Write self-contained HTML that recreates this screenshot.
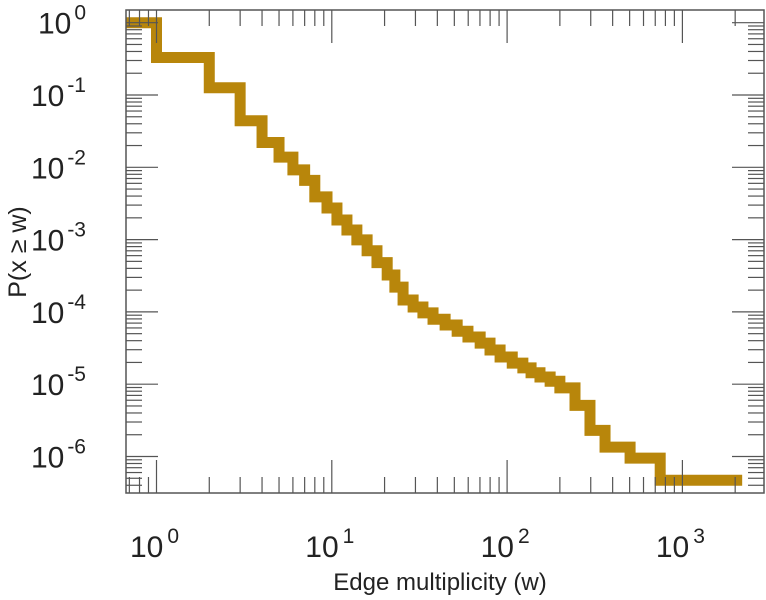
<!DOCTYPE html>
<html><head><meta charset="utf-8"><style>
body{margin:0;background:#fff;}
svg{display:block;font-family:"Liberation Sans",sans-serif;}
</style></head><body>
<svg id="chart" width="766" height="600" xmlns="http://www.w3.org/2000/svg"></svg>
<script>
const wValues=[1,2,3,4,5,6,7,8,9.39,10.7,12.2,13.9,15.9,18.1,20.7,22.9,25.5,29.1,33.1,37.8,44.3,51.9,59.8,70.2,79.9,91.2,107,123,137,154,176,200,244,297,362,503,747,2040];
const pValues=[1,0.33,0.126,0.044,0.022,0.0138,0.0092,0.0066,3.9e-3,2.74e-3,1.87e-3,1.36e-3,9.9e-4,7.0e-4,4.8e-4,3.24e-4,2.2e-4,1.46e-4,1.17e-4,9.7e-5,7.9e-5,6.6e-5,5.4e-5,4.5e-5,3.7e-5,2.97e-5,2.38e-5,1.96e-5,1.68e-5,1.44e-5,1.26e-5,1.1e-5,8.9e-6,5.1e-6,2.3e-6,1.35e-6,9.5e-7,4.7e-7];
const xTickExps=[0,1,2,3];
const yTickExps=[0,-1,-2,-3,-4,-5,-6];
const xMin=0.67;

const L=126,R=764,T=10,B=493;
const X0=156.5,XD=175.3,Y0=22.7,YD=72.3;
function sx(w){return X0+Math.log10(w)*XD;}
function sy(p){return Y0-Math.log10(p)*YD;}
const NS='http://www.w3.org/2000/svg';
const svg=document.getElementById('chart');
function mk(t,a,parent){const e=document.createElementNS(NS,t);for(const k in a)e.setAttribute(k,a[k]);(parent||svg).appendChild(e);return e;}

const defs=mk('defs',{});
const cp=mk('clipPath',{id:'pc'},defs);
mk('rect',{x:L,y:T,width:R-L,height:B-T},cp);

let d='M'+sx(xMin)+','+sy(pValues[0]);
for(let i=0;i<wValues.length;i++){
  d+=' L'+sx(wValues[i])+','+sy(pValues[i]);
  if(i+1<pValues.length) d+=' L'+sx(wValues[i])+','+sy(pValues[i+1]);
}
const line=mk('path',{d:d,fill:'none',stroke:'#b8860b','stroke-width':11,'stroke-linecap':'square','stroke-linejoin':'miter','clip-path':'url(#pc)'});



const tg=mk('g',{stroke:'#555','stroke-width':1.2});


for(let e=-1;e<=3;e++){for(let m=1;m<10;m++){const x=sx(m*Math.pow(10,e));if(x<L||x>R)continue;const len=m===1?33:16;
  mk('line',{x1:x,y1:B,x2:x,y2:B-len},tg);mk('line',{x1:x,y1:T,x2:x,y2:T+len},tg);}}
for(let e=-7;e<=0;e++){for(let m=1;m<10;m++){const y=sy(m*Math.pow(10,e));if(y<T||y>B)continue;const len=m===1?32:16;
  mk('line',{x1:L,y1:y,x2:L+len,y2:y},tg);mk('line',{x1:R,y1:y,x2:R-len,y2:y},tg);}}
const fr=mk('rect',{x:L,y:T,width:R-L,height:B-T,fill:'none',stroke:'#555','stroke-width':1.5});



xTickExps.forEach(e=>{
  const t=mk('text',{x:sx(Math.pow(10,e))-2,y:557,'text-anchor':'middle','font-size':30,fill:'#222'});
  
  
  t.textContent='10';
  const s=mk('tspan',{dy:-14,'font-size':21,dx:4},t);s.textContent=String(e);
});
yTickExps.forEach(e=>{
  const t=mk('text',{x:86,y:sy(Math.pow(10,e))+11,'text-anchor':'end','font-size':30,fill:'#222'});
  
  
  t.textContent='10';
  const s=mk('tspan',{dy:-14,'font-size':21,dx:3},t);s.textContent=String(e);
});
const xt=mk('text',{x:440,y:590,'text-anchor':'middle','font-size':24,fill:'#222'});


xt.textContent='Edge multiplicity (w)';
const yt=mk('text',{x:0,y:0,'text-anchor':'middle','font-size':25,fill:'#222',transform:'translate(26,252) rotate(-90)'});


yt.textContent='P(x \u2265 w)';
</script>
</body></html>
